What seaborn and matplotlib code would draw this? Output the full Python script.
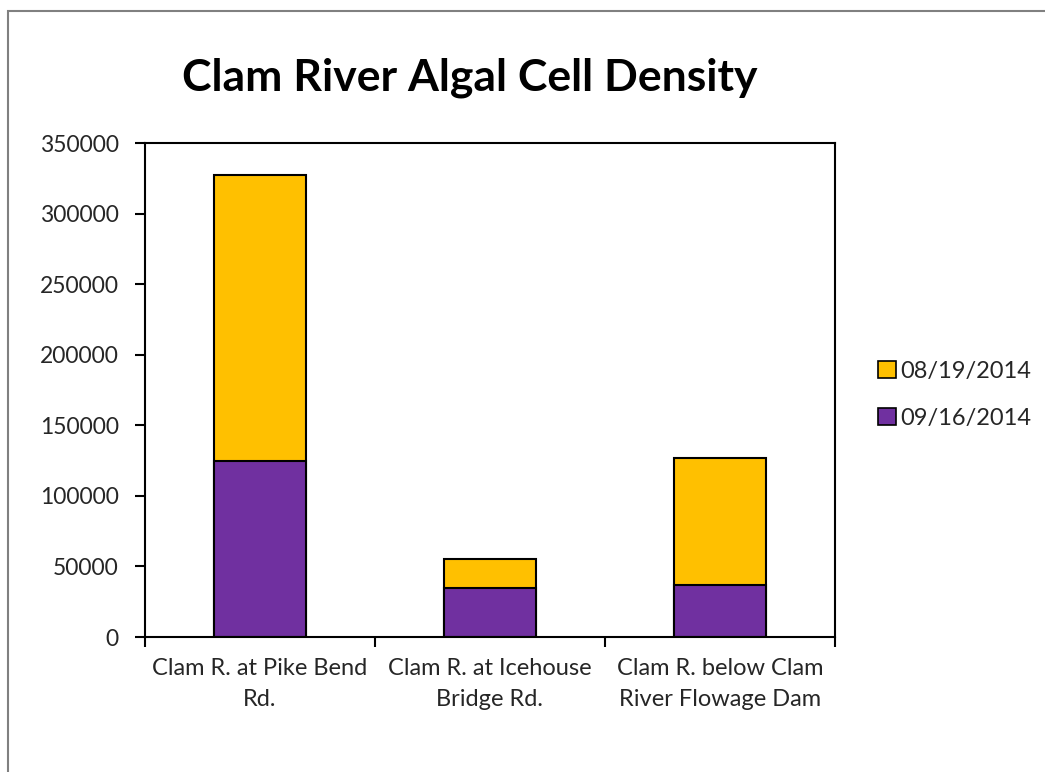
import matplotlib
matplotlib.use("Agg")
import matplotlib.pyplot as plt
import matplotlib.patches as mpatches
import numpy as np
import pandas as pd
import seaborn as sns

sites = ["Clam R. at Pike Bend\nRd.", "Clam R. at Icehouse\nBridge Rd.", "Clam R. below Clam\nRiver Flowage Dam"]
sep_2014 = [125000, 35000, 37000]   # 09/16/2014
aug_2014 = [202000, 20000, 90000]   # 08/19/2014
series_labels = ["08/19/2014", "09/16/2014"]
yticks = [0, 50000, 100000, 150000, 200000, 250000, 300000, 350000]

purple = "#7030A0"
gold = "#FFC000"

sns.set_theme(style="white")
plt.rcParams["font.family"] = ["Lato", "DejaVu Sans"]

fig = plt.figure(figsize=(10.45, 7.72), dpi=100)
W, H = 1045, 772

# outer chart frame
fig.patches.append(mpatches.Rectangle((8 / W, -0.1), 1.2, (H - 11) / H + 0.1,
                                      transform=fig.transFigure, fill=False,
                                      edgecolor="#808080", linewidth=1.5))

ax = fig.add_axes([145 / W, (H - 637) / H, 690 / W, 494 / H])

df = pd.DataFrame({"site": sites,
                   "sep": sep_2014,
                   "total": np.array(sep_2014) + np.array(aug_2014)})

sns.barplot(data=df, x="site", y="total", color=gold, width=0.4,
            edgecolor="black", linewidth=1.5, saturation=1, ax=ax)
sns.barplot(data=df, x="site", y="sep", color=purple, width=0.4,
            edgecolor="black", linewidth=1.5, saturation=1, ax=ax)

ax.set_xlim(-0.5, 2.5)
ax.set_ylim(0, 350000)
ax.set_yticks(yticks)
ax.set_yticklabels([str(v) for v in yticks], fontsize=16.5)
ax.set_xlabel("")
ax.set_ylabel("")
ax.set_xticks(range(len(sites)))
ax.set_xticklabels(sites, fontsize=17, linespacing=1.6)
ax.set_xticks([-0.5, 0.5, 1.5, 2.5], minor=True)
ax.tick_params(axis="x", which="major", length=0, pad=15)
ax.tick_params(axis="x", which="minor", length=7, width=1.5, color="black", direction="out", bottom=True)
ax.tick_params(axis="y", which="major", length=7, width=1.5, color="black", direction="out", left=True, pad=12)

for s in ax.spines.values():
    s.set_color("black")
    s.set_linewidth(1.5)
    s.set_visible(True)

fig.text(470 / W, 1 - 78 / H, "Clam River Algal Cell Density", ha="center", va="center",
         fontsize=32, fontweight="bold", color="black")

handles = [mpatches.Patch(facecolor=gold, edgecolor="black", linewidth=1.2),
           mpatches.Patch(facecolor=purple, edgecolor="black", linewidth=1.2)]
fig.legend(handles, series_labels, loc="center left",
           bbox_to_anchor=(878 / W, 1 - 395 / H), frameon=False, fontsize=17,
           handlelength=0.75, handleheight=0.75, handletextpad=0.2, labelspacing=1.1,
           borderaxespad=0, borderpad=0)

fig.savefig("out.png", dpi=100, facecolor="white")
